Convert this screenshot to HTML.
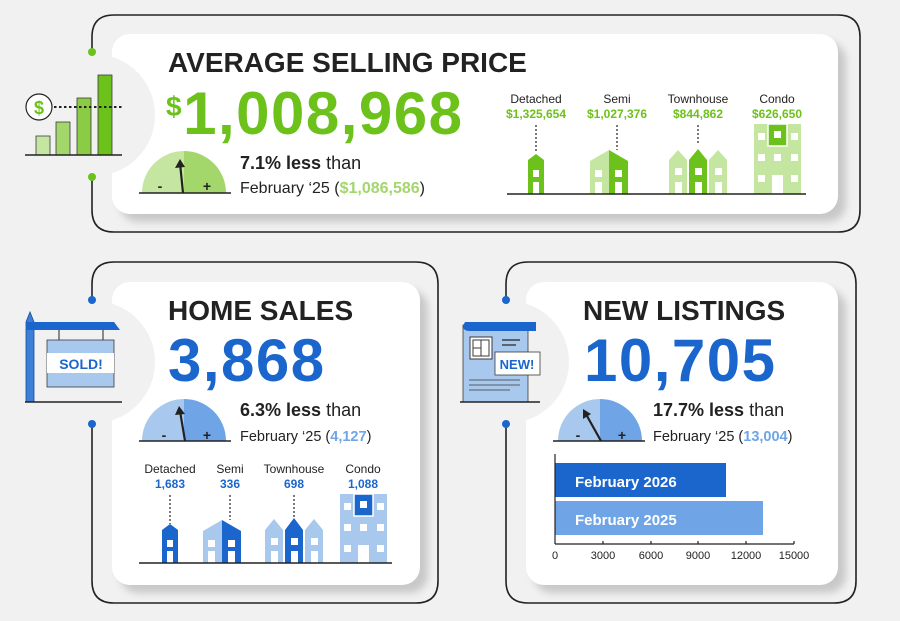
<!DOCTYPE html>
<html><head><meta charset="utf-8"><style>
html,body{margin:0;padding:0;background:#f1f1f1;}
svg{display:block;font-family:"Liberation Sans",sans-serif;}
</style></head><body>
<svg width="900" height="621" viewBox="0 0 900 621" xmlns="http://www.w3.org/2000/svg">
<defs>
<filter id="sh" x="-10%" y="-10%" width="130%" height="130%"><feGaussianBlur stdDeviation="4"/></filter>
</defs>
<rect width="900" height="621" fill="#f1f1f1"/>
<g fill="none" stroke="#222" stroke-width="1.6">
<path d="M92 52 V37 Q92 15 114 15 H838 Q860 15 860 37 V210 Q860 232 838 232 H114 Q92 232 92 210 V177"/>
<path d="M92 300 V284 Q92 262 114 262 H416 Q438 262 438 284 V581 Q438 603 416 603 H114 Q92 603 92 581 V424"/>
<path d="M506 300 V284 Q506 262 528 262 H834 Q856 262 856 284 V581 Q856 603 834 603 H528 Q506 603 506 581 V424"/>
</g>
<rect x="120" y="42" width="726" height="180" rx="18" fill="#c8c8c8" filter="url(#sh)"/>
<rect x="120" y="290" width="308" height="303" rx="18" fill="#c8c8c8" filter="url(#sh)"/>
<rect x="534" y="290" width="312" height="303" rx="18" fill="#c8c8c8" filter="url(#sh)"/>
<rect x="112" y="34" width="726" height="180" rx="18" fill="#fff"/>
<rect x="112" y="282" width="308" height="303" rx="18" fill="#fff"/>
<rect x="526" y="282" width="312" height="303" rx="18" fill="#fff"/>
<circle cx="94" cy="115" r="61" fill="#f1f1f1"/>
<circle cx="94" cy="362" r="61" fill="#f1f1f1"/>
<circle cx="508" cy="362" r="61" fill="#f1f1f1"/>
<circle cx="92" cy="52" r="4" fill="#6cc11a"/><circle cx="92" cy="177" r="4" fill="#6cc11a"/>
<circle cx="92" cy="300" r="4" fill="#1a66cc"/><circle cx="92" cy="424" r="4" fill="#1a66cc"/>
<circle cx="506" cy="300" r="4" fill="#1a66cc"/><circle cx="506" cy="424" r="4" fill="#1a66cc"/>

<!-- TOP PANEL -->
<text x="168" y="72" font-size="28" font-weight="bold" fill="#222">AVERAGE SELLING PRICE</text>
<text x="166" y="134" font-weight="bold" fill="#6cc11a" letter-spacing="1.5"><tspan font-size="28" dy="-18">$</tspan><tspan font-size="60" dy="18">1,008,968</tspan></text>
<g>
<path d="M142 193 A42 42 0 0 1 184 151 V193 Z" fill="#c5e6a0"/>
<path d="M184 151 A42 42 0 0 1 226 193 H184 Z" fill="#a3d66b"/>
<line x1="139" y1="193" x2="231" y2="193" stroke="#222" stroke-width="1.6"/>
<text x="160" y="191" font-size="14" font-weight="bold" fill="#222" text-anchor="middle">-</text>
<text x="207" y="191" font-size="14" font-weight="bold" fill="#222" text-anchor="middle">+</text>
<line x1="183" y1="193" x2="180" y2="163" stroke="#222" stroke-width="2.2"/>
<path d="M180 159 L175 168 L185 167 Z" fill="#222"/>
</g>
<text x="240" y="169" font-size="18" fill="#222"><tspan font-weight="bold">7.1% less</tspan> than</text>
<text x="240" y="193" font-size="16" fill="#222">February ‘25 (<tspan font-weight="bold" fill="#a3d66b">$1,086,586</tspan>)</text>
<g font-size="12" text-anchor="middle" fill="#222">
<text x="536" y="103">Detached</text><text x="617" y="103">Semi</text><text x="698" y="103">Townhouse</text><text x="777" y="103">Condo</text>
</g>
<g font-size="12" font-weight="bold" text-anchor="middle" fill="#6cc11a">
<text x="536" y="118">$1,325,654</text><text x="617" y="118">$1,027,376</text><text x="698" y="118">$844,862</text><text x="777" y="118">$626,650</text>
</g>
<g stroke="#222" stroke-dasharray="2,2" stroke-width="1.2">
<line x1="536" y1="125" x2="536" y2="152"/><line x1="617" y1="125" x2="617" y2="150"/><line x1="698" y1="125" x2="698" y2="144"/>
</g>
<g>
<path d="M528 194 V160 L536 154 L544 160 V194 Z" fill="#6cc11a"/>
<rect x="533" y="170" width="6" height="7" fill="#fff"/><rect x="533" y="182" width="6" height="12" fill="#fff"/>
<path d="M590 194 V161 L609 150 V194 Z" fill="#c5e6a0"/>
<path d="M609 194 V150 L628 161 V194 Z" fill="#6cc11a"/>
<rect x="595" y="170" width="7" height="7" fill="#fff"/><rect x="595" y="182" width="7" height="12" fill="#fff"/>
<rect x="615" y="170" width="7" height="7" fill="#fff"/><rect x="615" y="182" width="7" height="12" fill="#fff"/>
<path d="M669 194 V160 L678 150 L687 160 V194 Z" fill="#c5e6a0"/>
<path d="M689 194 V160 L698 149 L707 160 V194 Z" fill="#6cc11a"/>
<path d="M709 194 V160 L718 150 L727 160 V194 Z" fill="#c5e6a0"/>
<rect x="675" y="168" width="7" height="7" fill="#fff"/><rect x="675" y="182" width="7" height="12" fill="#fff"/>
<rect x="695" y="168" width="7" height="7" fill="#fff"/><rect x="695" y="182" width="7" height="12" fill="#fff"/>
<rect x="715" y="168" width="7" height="7" fill="#fff"/><rect x="715" y="182" width="7" height="12" fill="#fff"/>
<rect x="754" y="124" width="47" height="70" fill="#c5e6a0"/>
<rect x="768" y="124" width="19" height="22" fill="#6cc11a" stroke="#fff" stroke-width="1.5"/>
<rect x="774" y="131" width="7" height="7" fill="#fff"/>
<rect x="758" y="133" width="7" height="7" fill="#fff"/><rect x="791" y="133" width="7" height="7" fill="#fff"/>
<rect x="758" y="154" width="7" height="7" fill="#fff"/><rect x="774" y="154" width="7" height="7" fill="#fff"/><rect x="791" y="154" width="7" height="7" fill="#fff"/>
<rect x="758" y="175" width="7" height="7" fill="#fff"/><rect x="791" y="175" width="7" height="7" fill="#fff"/>
<rect x="772" y="175" width="11" height="19" fill="#fff"/>
</g>
<line x1="507" y1="194" x2="806" y2="194" stroke="#222" stroke-width="1.6"/>
<g>
<rect x="36" y="136" width="14" height="19" fill="#c5e6a0" stroke="#3a3a3a" stroke-width="0.8"/>
<rect x="56" y="122" width="14" height="33" fill="#a3d66b" stroke="#3a3a3a" stroke-width="0.8"/>
<rect x="77" y="98" width="14" height="57" fill="#8ccc45" stroke="#3a3a3a" stroke-width="0.8"/>
<rect x="98" y="75" width="14" height="80" fill="#6cc11a" stroke="#3a3a3a" stroke-width="0.8"/>
<line x1="25" y1="155" x2="122" y2="155" stroke="#222" stroke-width="1.6"/>
<line x1="54" y1="107" x2="122" y2="107" stroke="#222" stroke-width="2" stroke-dasharray="2.5,2.5"/>
<circle cx="39" cy="107" r="13" fill="#fff" stroke="#222" stroke-width="1.2"/>
<text x="39" y="114" font-size="18" font-weight="bold" fill="#6cc11a" text-anchor="middle">$</text>
</g>

<!-- HOME SALES -->
<text x="168" y="320" font-size="28" font-weight="bold" fill="#222">HOME SALES</text>
<text x="168" y="381" font-size="60" font-weight="bold" fill="#1a66cc" letter-spacing="1.5">3,868</text>
<g>
<path d="M142 441 A42 42 0 0 1 184 399 V441 Z" fill="#a9c8ee"/>
<path d="M184 399 A42 42 0 0 1 226 441 H184 Z" fill="#6fa5e6"/>
<line x1="139" y1="441" x2="231" y2="441" stroke="#222" stroke-width="1.6"/>
<text x="164" y="440" font-size="14" font-weight="bold" fill="#222" text-anchor="middle">-</text>
<text x="207" y="440" font-size="14" font-weight="bold" fill="#222" text-anchor="middle">+</text>
<line x1="185" y1="441" x2="180" y2="411" stroke="#222" stroke-width="2.2"/>
<path d="M179 406 L175 415 L185 414 Z" fill="#222"/>
</g>
<text x="240" y="416" font-size="18" fill="#222"><tspan font-weight="bold">6.3% less</tspan> than</text>
<text x="240" y="441" font-size="14.5" fill="#222">February ‘25 (<tspan font-weight="bold" fill="#6fa5e6">4,127</tspan>)</text>
<g font-size="12" text-anchor="middle" fill="#222">
<text x="170" y="473">Detached</text><text x="230" y="473">Semi</text><text x="294" y="473">Townhouse</text><text x="363" y="473">Condo</text>
</g>
<g font-size="12" font-weight="bold" text-anchor="middle" fill="#1a66cc">
<text x="170" y="488">1,683</text><text x="230" y="488">336</text><text x="294" y="488">698</text><text x="363" y="488">1,088</text>
</g>
<g stroke="#222" stroke-dasharray="2,2" stroke-width="1.2">
<line x1="170" y1="495" x2="170" y2="524"/><line x1="230" y1="495" x2="230" y2="520"/><line x1="294" y1="495" x2="294" y2="518"/>
</g>
<path d="M162 563 V530 L170 524 L178 530 V563 Z" fill="#1a66cc"/>
<rect x="167" y="540" width="6" height="7" fill="#fff"/><rect x="167" y="551" width="6" height="12" fill="#fff"/>
<path d="M203 563 V531 L222 520 V563 Z" fill="#a9c8ee"/>
<path d="M222 563 V520 L241 531 V563 Z" fill="#1a66cc"/>
<rect x="208" y="540" width="7" height="7" fill="#fff"/><rect x="208" y="551" width="7" height="12" fill="#fff"/>
<rect x="228" y="540" width="7" height="7" fill="#fff"/><rect x="228" y="551" width="7" height="12" fill="#fff"/>
<path d="M265 563 V530 L274 519 L283 530 V563 Z" fill="#a9c8ee"/>
<path d="M285 563 V530 L294 518 L303 530 V563 Z" fill="#1a66cc"/>
<path d="M305 563 V530 L314 519 L323 530 V563 Z" fill="#a9c8ee"/>
<rect x="271" y="538" width="7" height="7" fill="#fff"/><rect x="271" y="551" width="7" height="12" fill="#fff"/>
<rect x="291" y="538" width="7" height="7" fill="#fff"/><rect x="291" y="551" width="7" height="12" fill="#fff"/>
<rect x="311" y="538" width="7" height="7" fill="#fff"/><rect x="311" y="551" width="7" height="12" fill="#fff"/>
<rect x="340" y="494" width="47" height="69" fill="#a9c8ee"/>
<rect x="354" y="494" width="19" height="22" fill="#1a66cc" stroke="#fff" stroke-width="1.5"/>
<rect x="360" y="501" width="7" height="7" fill="#fff"/>
<rect x="344" y="503" width="7" height="7" fill="#fff"/><rect x="377" y="503" width="7" height="7" fill="#fff"/>
<rect x="344" y="524" width="7" height="7" fill="#fff"/><rect x="360" y="524" width="7" height="7" fill="#fff"/><rect x="377" y="524" width="7" height="7" fill="#fff"/>
<rect x="344" y="545" width="7" height="7" fill="#fff"/><rect x="377" y="545" width="7" height="7" fill="#fff"/>
<rect x="358" y="545" width="11" height="18" fill="#fff"/>
<line x1="139" y1="563" x2="392" y2="563" stroke="#222" stroke-width="1.6"/>
<path d="M26 402 V322 L30 312 L34 322 V402 Z" fill="#3b7fd8" stroke="#1a4d99" stroke-width="0.8"/>
<path d="M26 322 H114 L120 330 H26 Z" fill="#1a66cc"/>
<line x1="59" y1="330" x2="59" y2="340" stroke="#222"/><line x1="103" y1="330" x2="103" y2="340" stroke="#222"/>
<rect x="47" y="340" width="67" height="47" fill="#a9c8ee" stroke="#3a3a3a" stroke-width="0.8"/>
<rect x="47" y="353" width="67" height="20" fill="#fff"/>
<text x="81" y="369" font-size="14" font-weight="bold" fill="#1a66cc" text-anchor="middle">SOLD!</text>
<line x1="25" y1="402" x2="122" y2="402" stroke="#222" stroke-width="1.6"/>

<!-- NEW LISTINGS -->
<text x="583" y="320" font-size="28" font-weight="bold" fill="#222">NEW LISTINGS</text>
<text x="584" y="381" font-size="60" font-weight="bold" fill="#1a66cc" letter-spacing="1.5">10,705</text>
<g>
<path d="M558 441 A42 42 0 0 1 600 399 V441 Z" fill="#a9c8ee"/>
<path d="M600 399 A42 42 0 0 1 642 441 H600 Z" fill="#6fa5e6"/>
<line x1="553" y1="441" x2="645" y2="441" stroke="#222" stroke-width="1.6"/>
<text x="578" y="440" font-size="14" font-weight="bold" fill="#222" text-anchor="middle">-</text>
<text x="622" y="440" font-size="14" font-weight="bold" fill="#222" text-anchor="middle">+</text>
<line x1="601" y1="441" x2="587" y2="416" stroke="#222" stroke-width="2.2"/>
<path d="M583 409 L583 419 L591 414 Z" fill="#222"/>
</g>
<text x="653" y="416" font-size="18" fill="#222"><tspan font-weight="bold">17.7% less</tspan> than</text>
<text x="653" y="441" font-size="14.5" fill="#222">February ‘25 (<tspan font-weight="bold" fill="#6fa5e6">13,004</tspan>)</text>
<rect x="555" y="463" width="171" height="34" fill="#1a66cc"/>
<rect x="555" y="501" width="208" height="34" fill="#6fa5e6"/>
<text x="575" y="487" font-size="15" font-weight="bold" fill="#fff">February 2026</text>
<text x="575" y="525" font-size="15" font-weight="bold" fill="#fff">February 2025</text>
<g stroke="#222" stroke-width="1.2">
<line x1="555" y1="454" x2="555" y2="544"/><line x1="555" y1="544" x2="794" y2="544"/>
<line x1="603" y1="544" x2="603" y2="541"/><line x1="651" y1="544" x2="651" y2="541"/><line x1="698" y1="544" x2="698" y2="541"/><line x1="746" y1="544" x2="746" y2="541"/><line x1="794" y1="544" x2="794" y2="541"/>
</g>
<g font-size="11" fill="#222" text-anchor="middle">
<text x="555" y="559">0</text><text x="603" y="559">3000</text><text x="651" y="559">6000</text><text x="698" y="559">9000</text><text x="746" y="559">12000</text><text x="794" y="559">15000</text>
</g>
<rect x="463" y="325" width="65" height="77" fill="#a9c8ee" stroke="#3a3a3a" stroke-width="0.8"/>
<path d="M465 322 H536 V331 H470 Q463 331 463 326 Z" fill="#1a66cc"/>
<rect x="470" y="337" width="22" height="22" fill="#fff" stroke="#3a3a3a" stroke-width="1"/>
<path d="M473 340 H489 V356 H473 Z M481 340 V356 M473 348 H481" fill="none" stroke="#3a3a3a" stroke-width="1"/>
<line x1="502" y1="340" x2="520" y2="340" stroke="#222" stroke-width="1.2"/><line x1="502" y1="345" x2="516" y2="345" stroke="#222" stroke-width="1.2"/>
<rect x="495" y="352" width="45" height="23" fill="#fff" stroke="#3a3a3a" stroke-width="0.8"/>
<text x="517" y="369" font-size="13" font-weight="bold" fill="#1a66cc" text-anchor="middle">NEW!</text>
<g stroke="#3a3a3a" stroke-width="0.8"><line x1="469" y1="380" x2="520" y2="380"/><line x1="469" y1="385" x2="520" y2="385"/><line x1="469" y1="390" x2="510" y2="390"/></g>
<line x1="460" y1="402" x2="540" y2="402" stroke="#222" stroke-width="1.6"/>
</svg>
</body></html>
